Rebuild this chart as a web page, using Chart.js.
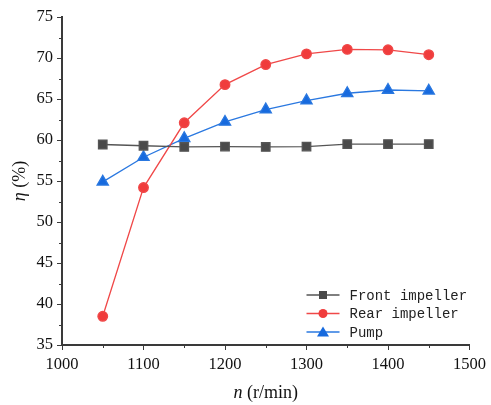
<!DOCTYPE html>
<html>
<head>
<meta charset="utf-8">
<script src="https://cdn.jsdelivr.net/npm/chart.js@4.4.0/dist/chart.umd.min.js"></script>
<style>
  html, body { margin: 0; padding: 0; background: #fff; }
  #wrap { width: 491px; height: 405px; }
</style>
</head>
<body>
<div id="wrap"><canvas id="effChart" width="491" height="405"></canvas></div>
<script>
// Vitesse de rotation (r/min)
const speeds = [1050, 1100, 1150, 1200, 1250, 1300, 1350, 1400, 1450];
// Rendement (%)
const frontEff = [59.45, 59.3, 59.15, 59.2, 59.15, 59.2, 59.5, 59.5, 59.5];
const rearEff = [38.5, 54.2, 62.1, 66.75, 69.2, 70.5, 71.05, 71.0, 70.4];
const pumpEff = [54.9, 57.9, 60.2, 62.2, 63.7, 64.8, 65.7, 66.1, 66.0];
const xTicks = [1000, 1100, 1200, 1300, 1400, 1500];
const yTicks = [35, 40, 45, 50, 55, 60, 65, 70, 75];

const seriesNames = ['Front impeller', 'Rear impeller', 'Pump'];
const axisColor = '#3a3a3a';
const serif = 'Liberation Serif';

Chart.defaults.font.family = serif;
Chart.defaults.color = '#111';

function toPoints(vals) {
    return speeds.map((s, i) => ({ x: s, y: vals[i] }));
}

// petits traits secondaires + titres d'axes + légende
const extras = {
    id: 'extras',
    afterDraw(chart) {
        const ctx = chart.ctx;
        const xs = chart.scales.x, ys = chart.scales.y;
        const area = chart.chartArea;
        ctx.save();
        ctx.strokeStyle = axisColor;
        ctx.lineWidth = 1;
        for (let v = 1050; v < 1500; v += 100) {
            const px = Math.round(xs.getPixelForValue(v)) + 0.5;
            ctx.beginPath();
            ctx.moveTo(px, area.bottom);
            ctx.lineTo(px, area.bottom + 3);
            ctx.stroke();
        }
        for (let v = 37.5; v < 75; v += 5) {
            const py = Math.round(ys.getPixelForValue(v)) + 0.5;
            ctx.beginPath();
            ctx.moveTo(area.left, py);
            ctx.lineTo(area.left - 3, py);
            ctx.stroke();
        }

        // titre axe x
        ctx.fillStyle = '#111';
        ctx.textBaseline = 'middle';
        ctx.textAlign = 'left';
        const it = 'italic 18px ' + serif, rg = '18px ' + serif;
        ctx.font = it;
        const w1 = ctx.measureText('n').width;
        ctx.font = rg;
        const w2 = ctx.measureText(' (r/min)').width;
        const cx = (area.left + area.right) / 2;
        const sx = cx - (w1 + w2) / 2;
        ctx.font = it;
        ctx.fillText('n', sx, 393);
        ctx.font = rg;
        ctx.fillText(' (r/min)', sx + w1, 393);

        // titre axe y
        ctx.save();
        ctx.translate(20, (area.top + area.bottom) / 2);
        ctx.rotate(-Math.PI / 2);
        ctx.font = it;
        const we1 = ctx.measureText('η').width;
        ctx.font = rg;
        const we2 = ctx.measureText(' (%)').width;
        const sy = -(we1 + we2) / 2;
        ctx.font = it;
        ctx.fillText('η', sy, 0);
        ctx.font = rg;
        ctx.fillText(' (%)', sy + we1, 0);
        ctx.restore();

        // légende
        const lx = area.right - 163, ly = area.bottom - 50;
        ctx.font = '14px "Liberation Mono", "DejaVu Sans Mono", monospace';
        chart.data.datasets.forEach((ds, i) => {
            const y = ly + i * 18.5;
            ctx.strokeStyle = ds.borderColor;
            ctx.lineWidth = 1.5;
            ctx.beginPath();
            ctx.moveTo(lx, y);
            ctx.lineTo(lx + 33, y);
            ctx.stroke();
            ctx.fillStyle = ds.backgroundColor;
            const mx = lx + 16.5;
            if (ds.pointStyle === 'rect') {
                ctx.fillRect(mx - 4, y - 4, 8, 8);
            } else if (ds.pointStyle === 'circle') {
                ctx.beginPath();
                ctx.arc(mx, y, 4.5, 0, Math.PI * 2);
                ctx.fill();
            } else {
                ctx.beginPath();
                ctx.moveTo(mx, y - 5.5);
                ctx.lineTo(mx + 6, y + 4.5);
                ctx.lineTo(mx - 6, y + 4.5);
                ctx.closePath();
                ctx.fill();
            }
            ctx.fillStyle = '#222';
            ctx.textAlign = 'left';
            ctx.fillText(ds.label, lx + 43, y + 1);
        });
        ctx.restore();
    }
};

const ctx = document.getElementById('effChart').getContext('2d');
new Chart(ctx, {
    type: 'line',
    data: {
        datasets: [{
            label: seriesNames[0],
            data: toPoints(frontEff),
            borderColor: '#555555',
            backgroundColor: '#4a4a4a',
            pointStyle: 'rect',
            pointRadius: 6,
            borderWidth: 1.3
        }, {
            label: seriesNames[1],
            data: toPoints(rearEff),
            borderColor: '#f04848',
            backgroundColor: '#f03c3c',
            pointStyle: 'circle',
            pointRadius: 4.8,
            borderWidth: 1.3
        }, {
            label: seriesNames[2],
            data: toPoints(pumpEff),
            borderColor: '#2a78e0',
            backgroundColor: '#176ade',
            pointStyle: 'triangle',
            pointRadius: 6.5,
            borderWidth: 1.3
        }]
    },
    options: {
        responsive: false,
        animation: false,
        layout: { padding: { top: 17, right: 21, left: 0, bottom: 0 } },
        plugins: {
            legend: { display: false },
            tooltip: { enabled: false }
        },
        elements: { point: { borderWidth: 0 }, line: { tension: 0 } },
        scales: {
            x: {
                type: 'linear',
                min: 1000,
                max: 1500,
                afterBuildTicks: s => { s.ticks = xTicks.map(v => ({ value: v })); },
                afterFit: s => { s.height = 60; },
                border: { color: axisColor, width: 2 },
                grid: { drawOnChartArea: false, tickLength: 5, tickColor: axisColor, tickWidth: 1 },
                ticks: {
                    color: '#111',
                    font: { family: serif, size: 16.5 },
                    padding: 5,
                    maxRotation: 0,
                    callback: v => String(v)
                }
            },
            y: {
                min: 35,
                max: 75,
                afterBuildTicks: s => { s.ticks = yTicks.map(v => ({ value: v })); },
                afterFit: s => { s.width = 62; },
                border: { color: axisColor, width: 2 },
                grid: { drawOnChartArea: false, tickLength: 5, tickColor: axisColor, tickWidth: 1 },
                ticks: {
                    color: '#111',
                    font: { family: serif, size: 16.5 },
                    padding: 4,
                    callback: v => String(v)
                }
            }
        }
    },
    plugins: [extras]
});
</script>
</body>
</html>
